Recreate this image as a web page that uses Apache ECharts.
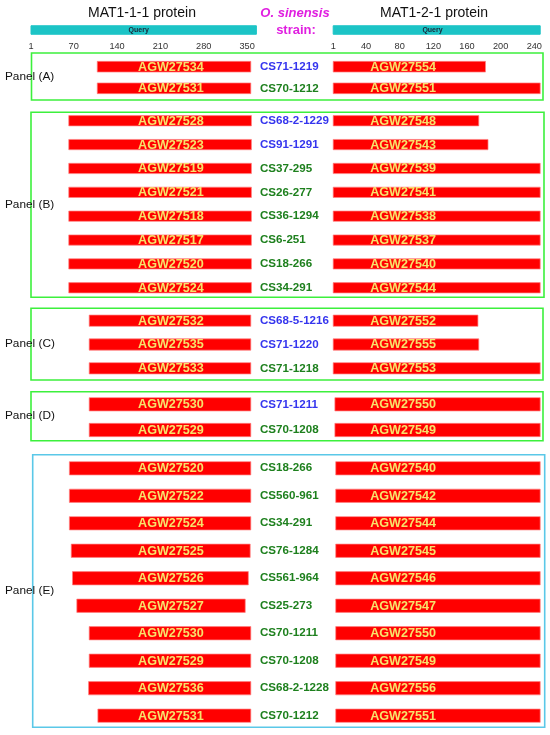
<!DOCTYPE html>
<html>
<head>
<meta charset="utf-8">
<title>MAT1-1-1 / MAT1-2-1 alignments</title>
<script src="https://cdn.jsdelivr.net/npm/echarts@6/dist/echarts.min.js"></script>
<style>
  html, body { margin: 0; padding: 0; background: #fff; }
  #chart { width: 550px; height: 735px; }
</style>
</head>
<body>
<div id="chart"></div>
<script>
// ---- data ----
const panelNames = ['Panel (A)', 'Panel (B)', 'Panel (C)', 'Panel (D)', 'Panel (E)'];
const panelSizes = [2, 8, 3, 2, 10];

const strains = [
  'CS71-1219', 'CS70-1212',
  'CS68-2-1229', 'CS91-1291', 'CS37-295', 'CS26-277', 'CS36-1294', 'CS6-251', 'CS18-266', 'CS34-291',
  'CS68-5-1216', 'CS71-1220', 'CS71-1218',
  'CS71-1211', 'CS70-1208',
  'CS18-266', 'CS560-961', 'CS34-291', 'CS76-1284', 'CS561-964', 'CS25-273', 'CS70-1211', 'CS70-1208', 'CS68-2-1228', 'CS70-1212'
];
// b = blue, g = green label
const strainGroup = [
  'b', 'g',
  'b', 'b', 'g', 'g', 'g', 'g', 'g', 'g',
  'b', 'b', 'g',
  'b', 'g',
  'g', 'g', 'g', 'g', 'g', 'g', 'g', 'g', 'g', 'g'
];

const mat111Ids = [
  'AGW27534', 'AGW27531',
  'AGW27528', 'AGW27523', 'AGW27519', 'AGW27521', 'AGW27518', 'AGW27517', 'AGW27520', 'AGW27524',
  'AGW27532', 'AGW27535', 'AGW27533',
  'AGW27530', 'AGW27529',
  'AGW27520', 'AGW27522', 'AGW27524', 'AGW27525', 'AGW27526', 'AGW27527', 'AGW27530', 'AGW27529', 'AGW27536', 'AGW27531'
];
const mat111Start = [108, 108, 62, 62, 62, 62, 62, 62, 62, 62, 95, 95, 95, 95, 95, 63, 63, 63, 66, 68, 75, 95, 95, 94, 109];
const mat111End = [356, 356, 357, 357, 357, 357, 357, 357, 357, 357, 356, 356, 356, 356, 356, 356, 356, 356, 355, 352, 347, 356, 356, 356, 356];

const mat121Ids = [
  'AGW27554', 'AGW27551',
  'AGW27548', 'AGW27543', 'AGW27539', 'AGW27541', 'AGW27538', 'AGW27537', 'AGW27540', 'AGW27544',
  'AGW27552', 'AGW27555', 'AGW27553',
  'AGW27550', 'AGW27549',
  'AGW27540', 'AGW27542', 'AGW27544', 'AGW27545', 'AGW27546', 'AGW27547', 'AGW27550', 'AGW27549', 'AGW27556', 'AGW27551'
];
const mat121Start = [1, 1, 1, 1, 1, 1, 1, 1, 1, 1, 1, 1, 1, 3, 3, 4, 4, 4, 4, 4, 4, 4, 4, 4, 4];
const mat121End = [182, 247, 174, 185, 247, 247, 247, 247, 247, 247, 173, 174, 247, 247, 247, 247, 247, 247, 247, 247, 247, 247, 247, 247, 247];

const mat111Length = 365;
const mat121Length = 247;
const mat111Ticks = [1, 70, 140, 210, 280, 350];
const mat121Ticks = [1, 40, 80, 120, 160, 200, 240];

// ---- layout ----
const FONT = '"Liberation Sans", Arial, sans-serif';
const NARROW = '"Liberation Sans Narrow", "Liberation Sans", Arial, sans-serif';
const sides = [
  { left: 31, width: 226, max: 366, len: mat111Length, ticks: mat111Ticks, labelAt: 227, queryAt: 175,
    ids: mat111Ids, start: mat111Start, end: mat111End },
  { left: 333.2, width: 207, max: 247, len: mat121Length, ticks: mat121Ticks, labelAt: 84, queryAt: 119,
    ids: mat121Ids, start: mat121Start, end: mat121End }
];
const panelTop = [55.9, 108.8, 308.8, 391.45, 454.55];
const panelHeight = [43.2, 190.9, 71.4, 51.4, 274.9];
const barHeight = [10.7, 10.3, 11.3, 13.3, 13.3];
const boxes = [
  [31.5, 53, 511.5, 47, '#3cf03c'],
  [31, 112.3, 513, 185, '#3cf03c'],
  [31, 308.3, 512, 71.7, '#3cf03c'],
  [31, 391.7, 512, 49, '#3cf03c'],
  [32.7, 454.7, 512, 272.6, '#5ac8e8']
];
const panelLabelY = [77, 205, 344, 416, 591];

function makeRender(ids, labelAt, h, fill, stroke, font, color) {
  return function (params, api) {
    const row = api.value(2);
    const a = api.coord([api.value(0), row]);
    const b = api.coord([api.value(1), row]);
    const t = api.coord([labelAt, row]);
    return {
      type: 'group',
      children: [
        { type: 'rect', shape: { x: a[0], y: a[1] - h / 2, width: b[0] - a[0], height: h },
          style: { fill: fill, stroke: stroke, lineWidth: 1 } },
        { type: 'text', x: t[0], y: t[1] + 0.5,
          style: { text: ids[params.dataIndex], align: 'center', verticalAlign: 'middle', fill: color, font: font } }
      ]
    };
  };
}

const grid = [], xAxis = [], yAxis = [], series = [];

sides.forEach(function (s, si) {
  // query strip with the tick labels
  grid.push({ left: s.left, width: s.width, top: 24, height: 12, outerBoundsMode: 'none' });
  let gi = grid.length - 1;
  xAxis.push({
    type: 'value', gridIndex: gi, min: 1, max: s.max, position: 'bottom',
    axisLine: { show: false }, axisTick: { show: false }, splitLine: { show: false },
    axisLabel: { customValues: s.ticks, fontSize: 9.2, fontFamily: NARROW, color: '#333', margin: 5.5 }
  });
  yAxis.push({ type: 'category', gridIndex: gi, data: ['Query'], show: false });
  series.push({
    type: 'custom', xAxisIndex: gi, yAxisIndex: gi,
    data: [[1, s.len, 0]], encode: { x: [0, 1], y: 2 },
    renderItem: makeRender(['Query'], s.queryAt, 8.5, '#1cc4c6', '#1cc4c6',
      'bold 7px ' + NARROW, '#1b2638')
  });

  let offset = 0;
  panelSizes.forEach(function (n, p) {
    grid.push({ left: s.left, width: s.width, top: panelTop[p], height: panelHeight[p], outerBoundsMode: 'none' });
    gi = grid.length - 1;
    xAxis.push({ type: 'value', gridIndex: gi, min: 1, max: s.max, show: false });
    const off = offset;
    const y = {
      type: 'category', gridIndex: gi, inverse: true,
      data: (si === 1 ? strains : s.ids).slice(off, off + n),
      axisLine: { show: false }, axisTick: { show: false }, splitLine: { show: false }
    };
    if (si === 1) {
      y.axisLabel = {
        interval: 0, align: 'left', margin: 73.2,
        formatter: function (v, i) { return '{' + strainGroup[off + i] + '|' + v + '}'; },
        rich: {
          b: { color: '#3535ee', fontWeight: 'bold', fontSize: 11.6, fontFamily: FONT },
          g: { color: '#1e801e', fontWeight: 'bold', fontSize: 11.6, fontFamily: FONT }
        }
      };
    } else {
      y.axisLabel = { show: false };
    }
    yAxis.push(y);
    const data = [];
    for (let i = 0; i < n; i++) {
      data.push([s.start[off + i], s.end[off + i], i]);
    }
    series.push({
      type: 'custom', xAxisIndex: gi, yAxisIndex: gi,
      data: data, encode: { x: [0, 1], y: 2 },
      renderItem: makeRender(s.ids.slice(off, off + n), s.labelAt, barHeight[p], '#ff0000',
        'rgba(255,130,130,0.7)', 'bold 12.6px ' + FONT, '#f7e26b')
    });
    offset += n;
  });
});

const graphics = [
  { type: 'text', x: 142, y: 13, style: { text: 'MAT1-1-1 protein', font: '14px ' + FONT, fill: '#111', align: 'center', verticalAlign: 'middle' } },
  { type: 'text', x: 434, y: 13, style: { text: 'MAT1-2-1 protein', font: '14px ' + FONT, fill: '#111', align: 'center', verticalAlign: 'middle' } },
  { type: 'text', x: 295, y: 13, style: { text: 'O. sinensis', font: 'italic bold 13px ' + FONT, fill: '#e01fe0', align: 'center', verticalAlign: 'middle' } },
  { type: 'text', x: 296, y: 30, style: { text: 'strain:', font: 'bold 13px ' + FONT, fill: '#e01fe0', align: 'center', verticalAlign: 'middle' } }
];
boxes.forEach(function (b) {
  graphics.push({ type: 'rect', shape: { x: b[0], y: b[1], width: b[2], height: b[3] },
    style: { fill: 'none', stroke: b[4], lineWidth: 1.6 }, z: -1 });
});
panelNames.forEach(function (name, p) {
  graphics.push({ type: 'text', x: 5, y: panelLabelY[p], z: 10,
    style: { text: name, font: '11.8px ' + FONT, fill: '#111', align: 'left', verticalAlign: 'middle' } });
});

const chart = echarts.init(document.getElementById('chart'));
chart.setOption({
  animation: false,
  backgroundColor: '#fff',
  grid: grid,
  xAxis: xAxis,
  yAxis: yAxis,
  series: series,
  graphic: graphics
});
</script>
</body>
</html>
